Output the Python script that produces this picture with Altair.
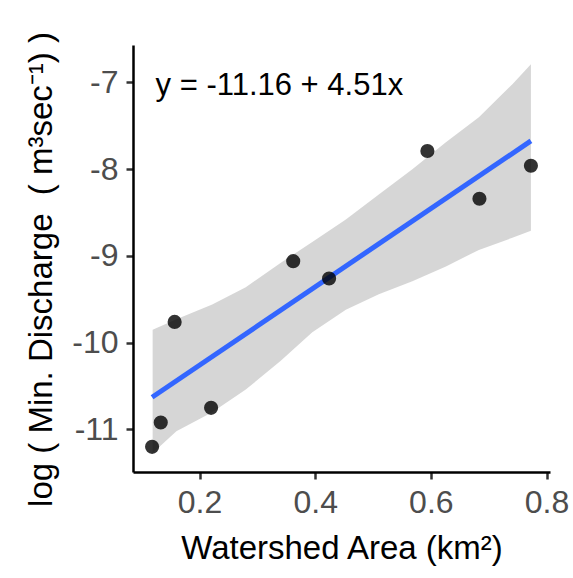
import altair as alt
import pandas as pd

# Points
area = [0.118, 0.133, 0.157, 0.220, 0.362, 0.424, 0.594, 0.684, 0.773]
discharge = [-11.20, -10.92, -9.76, -10.75, -9.06, -9.26, -7.79, -8.34, -7.96]

# Confidence band
band_x = [0.119, 0.160, 0.222, 0.280, 0.340, 0.395, 0.453, 0.510, 0.568, 0.626, 0.683, 0.741, 0.773]
band_hi = [-9.85, -9.73, -9.56, -9.36, -9.08, -8.84, -8.58, -8.29, -8.00, -7.69, -7.40, -7.02, -6.79]
band_lo = [-11.27, -11.02, -10.80, -10.54, -10.21, -9.88, -9.62, -9.44, -9.29, -9.12, -8.93, -8.79, -8.71]

# Fitted equation as printed
intercept = -11.16
slope = 4.51
eq_label = ["y = -11.16 + 4.51x"]

x_ticks = [0.2, 0.4, 0.6, 0.8]
y_ticks = [-11, -10, -9, -8, -7]

pts = pd.DataFrame({"area": area, "discharge": discharge})
band = pd.DataFrame({"x": band_x, "lo": band_lo, "hi": band_hi})
fit = pd.DataFrame({"x": [min(area), max(area)]})
lab = pd.DataFrame({"label": eq_label})

FONT = "Liberation Sans"
xscale = alt.Scale(domain=[0.085, 0.806], nice=False, zero=False)
yscale = alt.Scale(domain=[-11.49, -6.568], nice=False, zero=False)

xaxis = alt.Axis(values=x_ticks, format=".1f", title="Watershed Area (km²)")
yaxis = alt.Axis(values=y_ticks, labelExpr="'' + datum.value",
                 title="log ( Min. Discharge\u00a0\u00a0( m³sec⁻¹) )")

band_layer = alt.Chart(band).mark_area(color="#999999", opacity=0.4).encode(
    x=alt.X("x:Q", scale=xscale, axis=xaxis),
    y=alt.Y("lo:Q", scale=yscale, axis=yaxis),
    y2="hi:Q",
)

line_layer = alt.Chart(fit).transform_calculate(
    y=f"{intercept} + {slope} * datum.x"
).mark_line(color="#3366FF", strokeWidth=5).encode(
    x=alt.X("x:Q", scale=xscale),
    y=alt.Y("y:Q", scale=yscale),
)

pt_layer = alt.Chart(pts).mark_circle(color="black", opacity=0.8, size=200).encode(
    x=alt.X("area:Q", scale=xscale),
    y=alt.Y("discharge:Q", scale=yscale),
)

txt_layer = alt.Chart(lab).mark_text(
    align="left", baseline="alphabetic", fontSize=31, font=FONT, color="black"
).encode(
    x=alt.datum(0.124),
    y=alt.datum(-7.14),
    text="label:N",
)

chart = alt.layer(band_layer, line_layer, pt_layer, txt_layer).properties(
    width=417, height=427,
    autosize=alt.AutoSizeParams(type="none"),
    padding={"left": 133, "top": 45, "right": 23, "bottom": 106},
).configure_view(stroke=None).configure_axis(
    grid=False,
    domainColor="black", domainWidth=2.5,
    tickColor="#333333", tickWidth=2.5, tickSize=7,
    labelColor="#4D4D4D", labelFontSize=32, labelFont=FONT, labelPadding=8,
    titleColor="black", titleFontSize=33, titleFont=FONT, titleFontWeight="normal",
).configure_axisX(titlePadding=14).configure_axisY(titlePadding=13, titleY=224)

chart.save("out.html", embed_options={"renderer": "svg", "actions": False})
